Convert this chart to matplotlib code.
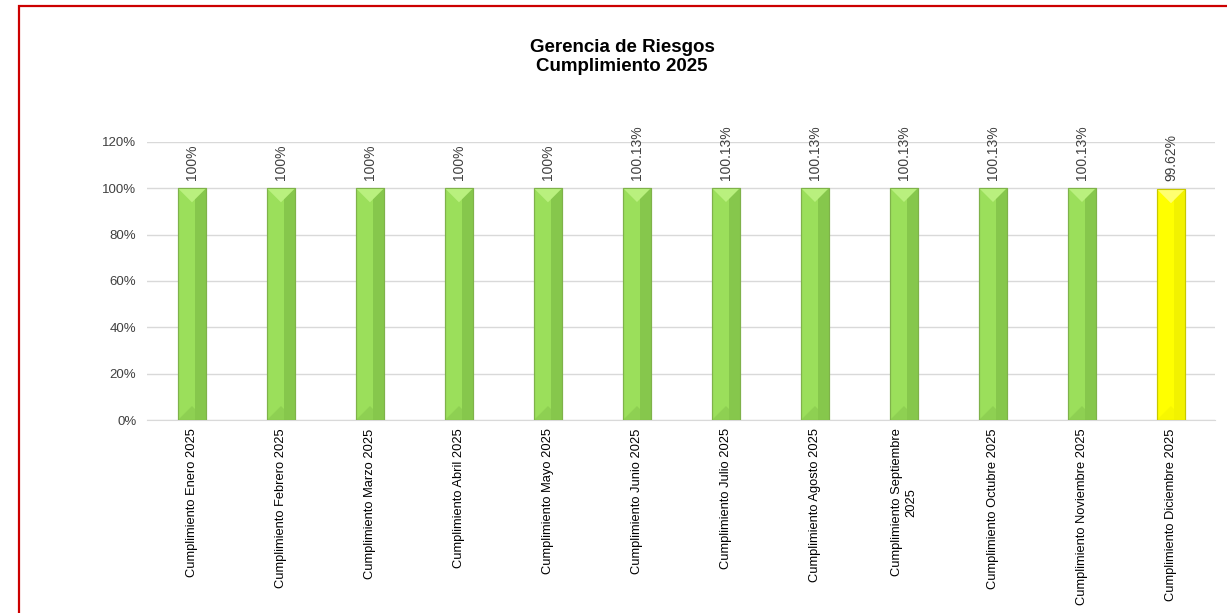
import matplotlib.pyplot as plt
from matplotlib.patches import Polygon, Rectangle

plt.rcParams['font.family'] = ['Liberation Sans', 'DejaVu Sans']

# Data
categorias = ["Cumplimiento Enero 2025", "Cumplimiento Febrero 2025", "Cumplimiento Marzo 2025",
              "Cumplimiento Abril 2025", "Cumplimiento Mayo 2025", "Cumplimiento Junio 2025",
              "Cumplimiento Julio 2025", "Cumplimiento Agosto 2025", "Cumplimiento Septiembre\n2025",
              "Cumplimiento Octubre 2025", "Cumplimiento Noviembre 2025", "Cumplimiento Diciembre 2025"]
valores = [1.0, 1.0, 1.0, 1.0, 1.0, 1.0013, 1.0013, 1.0013, 1.0013, 1.0013, 1.0013, 0.9962]
etiquetas = ["100%", "100%", "100%", "100%", "100%", "100.13%", "100.13%", "100.13%",
             "100.13%", "100.13%", "100.13%", "99.62%"]
yticks = [0, 0.2, 0.4, 0.6, 0.8, 1.0, 1.2]
ytick_labels = ["0%", "20%", "40%", "60%", "80%", "100%", "120%"]

# colours: (main, dark side, light top, edge)
verde = ("#9BDF5B", "#86C74C", "#B9F07E", "#7FB24A")
amarillo = ("#FFFF00", "#F2F200", "#FFFF70", "#C8C800")
colores = [verde] * 11 + [amarillo]

fig = plt.figure(figsize=(12.27, 6.13), dpi=100)
ax = fig.add_axes([0.1202, 0.3148, 0.8704, 0.4536])

x = list(range(len(categorias)))
ancho = 0.315
bars = ax.bar(x, valores, width=ancho, color=[c[0] for c in colores],
              edgecolor=[c[3] for c in colores], linewidth=0.8, zorder=3)

ax.set_xlim(-0.5, len(categorias) - 0.5)
ax.set_ylim(0, 1.2)

# pixel -> data scale for bevel triangles
pos = ax.get_position()
px_x = fig.get_figwidth() * fig.dpi * pos.width / (len(categorias))
px_y = fig.get_figheight() * fig.dpi * pos.height / 1.2

for b, c in zip(bars, colores):
    x0, w, h = b.get_x(), b.get_width(), b.get_height()
    # darker right side
    ax.add_patch(Rectangle((x0 + w * 0.62, 0), w * 0.38, h, color=c[1], lw=0, zorder=3.1))
    tri = (w / 2) * px_x / px_y
    # light top triangle
    ax.add_patch(Polygon([(x0, h), (x0 + w, h), (x0 + w / 2, h - tri)],
                         closed=True, color=c[2], lw=0, zorder=3.2))
    # darker bottom corners
    ax.add_patch(Polygon([(x0, 0), (x0 + w / 2, tri), (x0 + w, 0)],
                         closed=True, color=c[1], lw=0, alpha=0.6, zorder=3.2))
    ax.add_patch(Rectangle((x0, 0), w, h, fill=False, ec=c[3], lw=0.8, zorder=3.3))

for xi, v, t in zip(x, valores, etiquetas):
    ax.annotate(t, (xi, v), xytext=(0, 6), textcoords="offset points",
                rotation=90, ha="center", va="bottom", fontsize=10, color="#404040")

ax.set_yticks(yticks)
ax.set_yticklabels(ytick_labels, fontsize=9.5, color="#404040")
ax.set_xticks(x)
ax.set_xticklabels(categorias, rotation=90, fontsize=9.3, color="#000000",
                   ha="center", va="top", multialignment="center")
ax.tick_params(axis="both", length=0)
ax.tick_params(axis="y", pad=8)
ax.tick_params(axis="x", pad=6)
ax.grid(axis="y", color="#D9D9D9", linewidth=1, zorder=0)
for s in ["top", "right", "left"]:
    ax.spines[s].set_visible(False)
ax.spines["bottom"].set_color("#D9D9D9")

fig.text(0.507, 0.907, "Gerencia de Riesgos\nCumplimiento 2025", ha="center", va="center",
         fontsize=13.5, fontweight="bold", linespacing=1.15)

# red frame
fig.patches.append(Rectangle((19 / 1227, -0.1), 1.2, 0.1 + (1 - 6 / 613), fill=False,
                             ec="#CC0000", lw=1.6, transform=fig.transFigure, figure=fig))

fig.savefig("out.png", dpi=100)
